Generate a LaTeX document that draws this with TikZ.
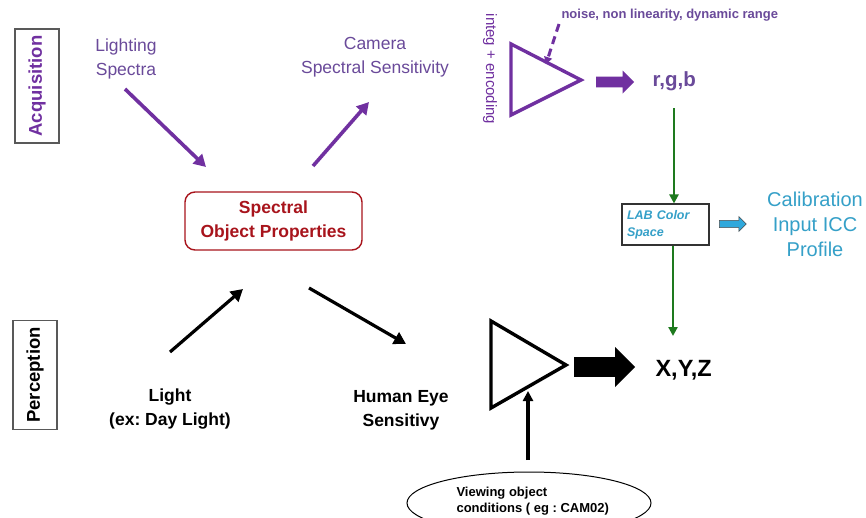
\documentclass[tikz,border=0pt]{standalone}
\usepackage{fontspec}
\setmainfont{Liberation Sans}
\frenchspacing
\usetikzlibrary{shapes.geometric,shapes.arrows,arrows.meta}
\definecolor{pur}{HTML}{7030A0}
\definecolor{purtxt}{HTML}{6A4A9A}
\definecolor{dred}{HTML}{A8141C}
\definecolor{bluet}{HTML}{35A0C8}
\definecolor{grn}{HTML}{1E7A1E}
\definecolor{blockblue}{HTML}{2FA8DC}
\tikzset{
  sidebox/.style={draw=gray!70!black, line width=1.1pt, rotate=90, font=\bfseries\fontsize{18.5}{20}\selectfont, minimum width=112, minimum height=44, inner sep=0},
  ptext/.style={text=purtxt, font=\fontsize{17.5}{24}\selectfont, align=center},
  btext/.style={text=black, font=\bfseries\fontsize{17.5}{24}\selectfont, align=center},
  parrow/.style={draw=pur, line width=3.6pt, -{Triangle[length=12pt,width=13pt]}},
  karrow/.style={draw=black, line width=3.2pt, -{Triangle[length=12pt,width=13pt]}},
  garrow/.style={draw=grn, line width=2.8pt, -{Triangle[length=9pt,width=9pt]}},
  blockarr/.style={single arrow, inner sep=0pt, single arrow head extend=6pt, single arrow tip angle=90, anchor=west, shape border rotate=0},
}
\begin{document}
\begin{tikzpicture}[x=1pt,y=-1pt]
\clip (0,0) rectangle (866,517);
\fill[white] (0,0) rectangle (866,517);

% side labels
\node[sidebox, text=pur, minimum width=114] (acq) at (37,86) {Acquisition};
\node[sidebox, text=black, minimum width=109] (per) at (35,375) {Perception};

% acquisition texts
\node[ptext] (light) at (126,59) {Lighting\\Spectra};
\node[ptext] (cam) at (375,57) {Camera\\Spectral Sensitivity};

% object
\node[draw=dred, line width=1.4pt, rounded corners=10pt, minimum width=177, minimum height=58, text=dred, font=\bfseries\fontsize{17.5}{24}\selectfont, align=center] (obj) at (273.5,221) {Spectral\\Object Properties};

\coordinate (la1) at (125,89);
\coordinate (la2) at (206,167);
\draw[parrow] (la1) -- (la2);
\coordinate (ca1) at (313,166);
\coordinate (ca2) at (369,102);
\draw[parrow] (ca1) -- (ca2);

% purple triangle
\coordinate (t1a) at (511,44);
\coordinate (t1b) at (511,115);
\coordinate (t1c) at (581,80);
\draw[pur, line width=3.4pt, line join=miter] (t1a) -- (t1c) -- (t1b) -- cycle;
\node[text=pur, rotate=-90, font=\fontsize{15}{17}\selectfont] (integ) at (490,69) {integ + encoding};
\node[text=purtxt, font=\bfseries\fontsize{13}{15}\selectfont, anchor=west] (noise) at (558,15) {noise, non linearity, dynamic range};
\coordinate (n1) at (559,24);
\coordinate (n2) at (546,64);
\draw[pur, line width=3pt, dash pattern=on 8pt off 5pt, -{Triangle[length=7pt,width=8pt]}] (n1) -- (n2);

\node[blockarr, fill=pur, minimum height=38, minimum width=23, inner ysep=5pt] (pba) at (596,82) {};
\node[text=purtxt, font=\bfseries\fontsize{20.5}{22}\selectfont, anchor=west] (rgb) at (649,81) {r,g,b};

% LAB box
\node[draw=black!80, line width=1.1pt, minimum width=87, minimum height=41, text=bluet, font=\bfseries\itshape\fontsize{12.5}{17}\selectfont, align=left, text width=77] (lab) at (665.5,224.5) {LAB Color\\Space};
\coordinate (g1) at (674,108);
\draw[garrow] (g1) -- (lab.north -| g1);
\coordinate (g2) at (673,336);
\draw[garrow] (lab.south -| g2) -- (g2);

\node[blockarr, fill=blockblue, draw=black!70, line width=0.5pt, minimum height=27, minimum width=15, inner ysep=3pt, single arrow head extend=3.5pt] (bba) at (719,224) {};
\node[text=bluet, font=\fontsize{20}{25}\selectfont, align=center] (calib) at (815,224) {Calibration\\Input ICC\\Profile};

% perception
\node[btext] (lgt) at (170,409) {Light\\(ex: Day Light)};
\node[btext] (eye) at (401,410) {Human Eye\\Sensitivy};
\coordinate (k1) at (170,352);
\coordinate (k2) at (243,289);
\draw[karrow] (k1) -- (k2);
\coordinate (k3) at (309,288);
\coordinate (k4) at (406,344);
\draw[karrow] (k3) -- (k4);

% black triangle
\coordinate (t2a) at (491,321);
\coordinate (t2b) at (491,408);
\coordinate (t2c) at (566,365);
\draw[black, line width=3.4pt, line join=miter] (t2a) -- (t2c) -- (t2b) -- cycle;
\node[blockarr, fill=black, minimum height=61, minimum width=40, inner ysep=8.5pt, single arrow head extend=9pt] (kba) at (574,367) {};
\node[font=\bfseries\fontsize{23.5}{25}\selectfont, anchor=west] (xyz) at (652,370) {X,Y,Z};

% ellipse
\node[draw=black, line width=1pt, ellipse, minimum width=244, minimum height=62, inner sep=0] (view) at (529,503) {};
\node[font=\bfseries\fontsize{13}{16}\selectfont, align=left, anchor=west] (vtxt) at (453,501) {Viewing object\\conditions ( eg : CAM02)};
\coordinate (v1) at (528,460);
\coordinate (v2) at (528,391);
\draw[karrow, -{Triangle[length=10pt,width=10pt]}] (v1) -- (v2);
\end{tikzpicture}
\end{document}
